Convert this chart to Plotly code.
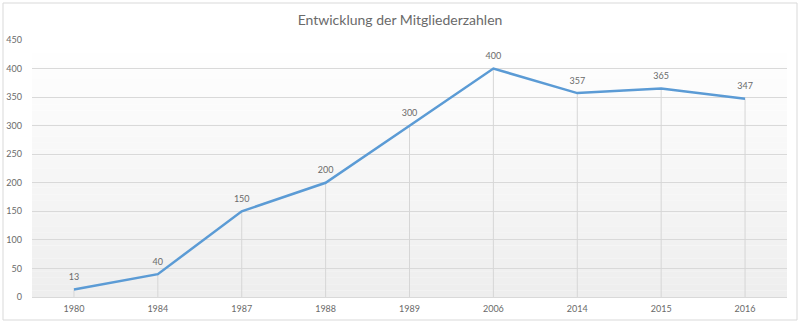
import plotly.graph_objects as go

years = ["1980", "1984", "1987", "1988", "1989", "2006", "2014", "2015", "2016"]
members = [13, 40, 150, 200, 300, 400, 357, 365, 347]
y_ticks = [0, 50, 100, 150, 200, 250, 300, 350, 400, 450]

W, H = 800, 323
ML, MR, MT, MB = 32, 13, 40, 26
pw, ph = W - ML - MR, H - MT - MB
TXT = "#6a6a6a"

fig = go.Figure()

# drop lines from each point to the axis, plus the data labels
fig.add_trace(go.Scatter(
    x=years, y=members, mode="markers+text",
    marker=dict(size=10, color="rgba(0,0,0,0)"),
    text=[str(v) for v in members], textposition="top center",
    textfont=dict(size=9, color=TXT, family="Lato"),
    error_y=dict(type="data", symmetric=False, array=[0] * len(members),
                 arrayminus=members, color="#d6d6d6", thickness=1, width=0),
    hoverinfo="skip", showlegend=False,
))

fig.add_trace(go.Scatter(
    x=years, y=members, mode="lines",
    line=dict(color="#5b9bd5", width=2.5),
    showlegend=False,
))

shapes = []
# gradient plot background
n = 40
for i in range(n):
    t = i / (n - 1)
    c = int(round(255 - (255 - 238) * t))
    shapes.append(dict(type="rect", xref="paper", yref="paper",
                       x0=0, x1=1, y0=1 - (i + 1) / n, y1=1 - i / n,
                       fillcolor=f"rgb({c},{c},{c})", line=dict(width=0),
                       layer="below"))
# chart border
shapes.append(dict(type="rect", xref="paper", yref="paper",
                   x0=(3 - ML) / pw, x1=(797 - ML) / pw,
                   y0=-(320 - (H - MB)) / ph,
                   y1=1 + (MT - 3) / ph,
                   line=dict(color="#d9d9d9", width=1), fillcolor="rgba(0,0,0,0)",
                   layer="below"))

fig.update_layout(
    width=W, height=H,
    margin=dict(l=ML, r=MR, t=MT, b=MB, autoexpand=False),
    paper_bgcolor="white", plot_bgcolor="rgba(0,0,0,0)",
    font=dict(family="Lato", color=TXT),
    title=dict(text="Entwicklung der Mitgliederzahlen", x=0.5, xanchor="center",
               y=1 - 20 / H, yanchor="middle",
               font=dict(size=14, color=TXT, family="Lato")),
    xaxis=dict(type="category", range=[-0.5, len(years) - 0.5],
               showgrid=False, zeroline=False, showline=False, automargin=False,
               ticks="", ticklabelstandoff=5, tickfont=dict(size=9, color=TXT)),
    yaxis=dict(range=[0, 450], tickvals=y_ticks, showgrid=True, automargin=False,
               gridcolor="#d9d9d9", gridwidth=1, zeroline=True,
               zerolinecolor="#d9d9d9", zerolinewidth=1,
               showline=False, ticks="", ticklabelstandoff=9,
               tickfont=dict(size=9, color=TXT)),
    shapes=shapes,
)

fig.write_html("out.html")
